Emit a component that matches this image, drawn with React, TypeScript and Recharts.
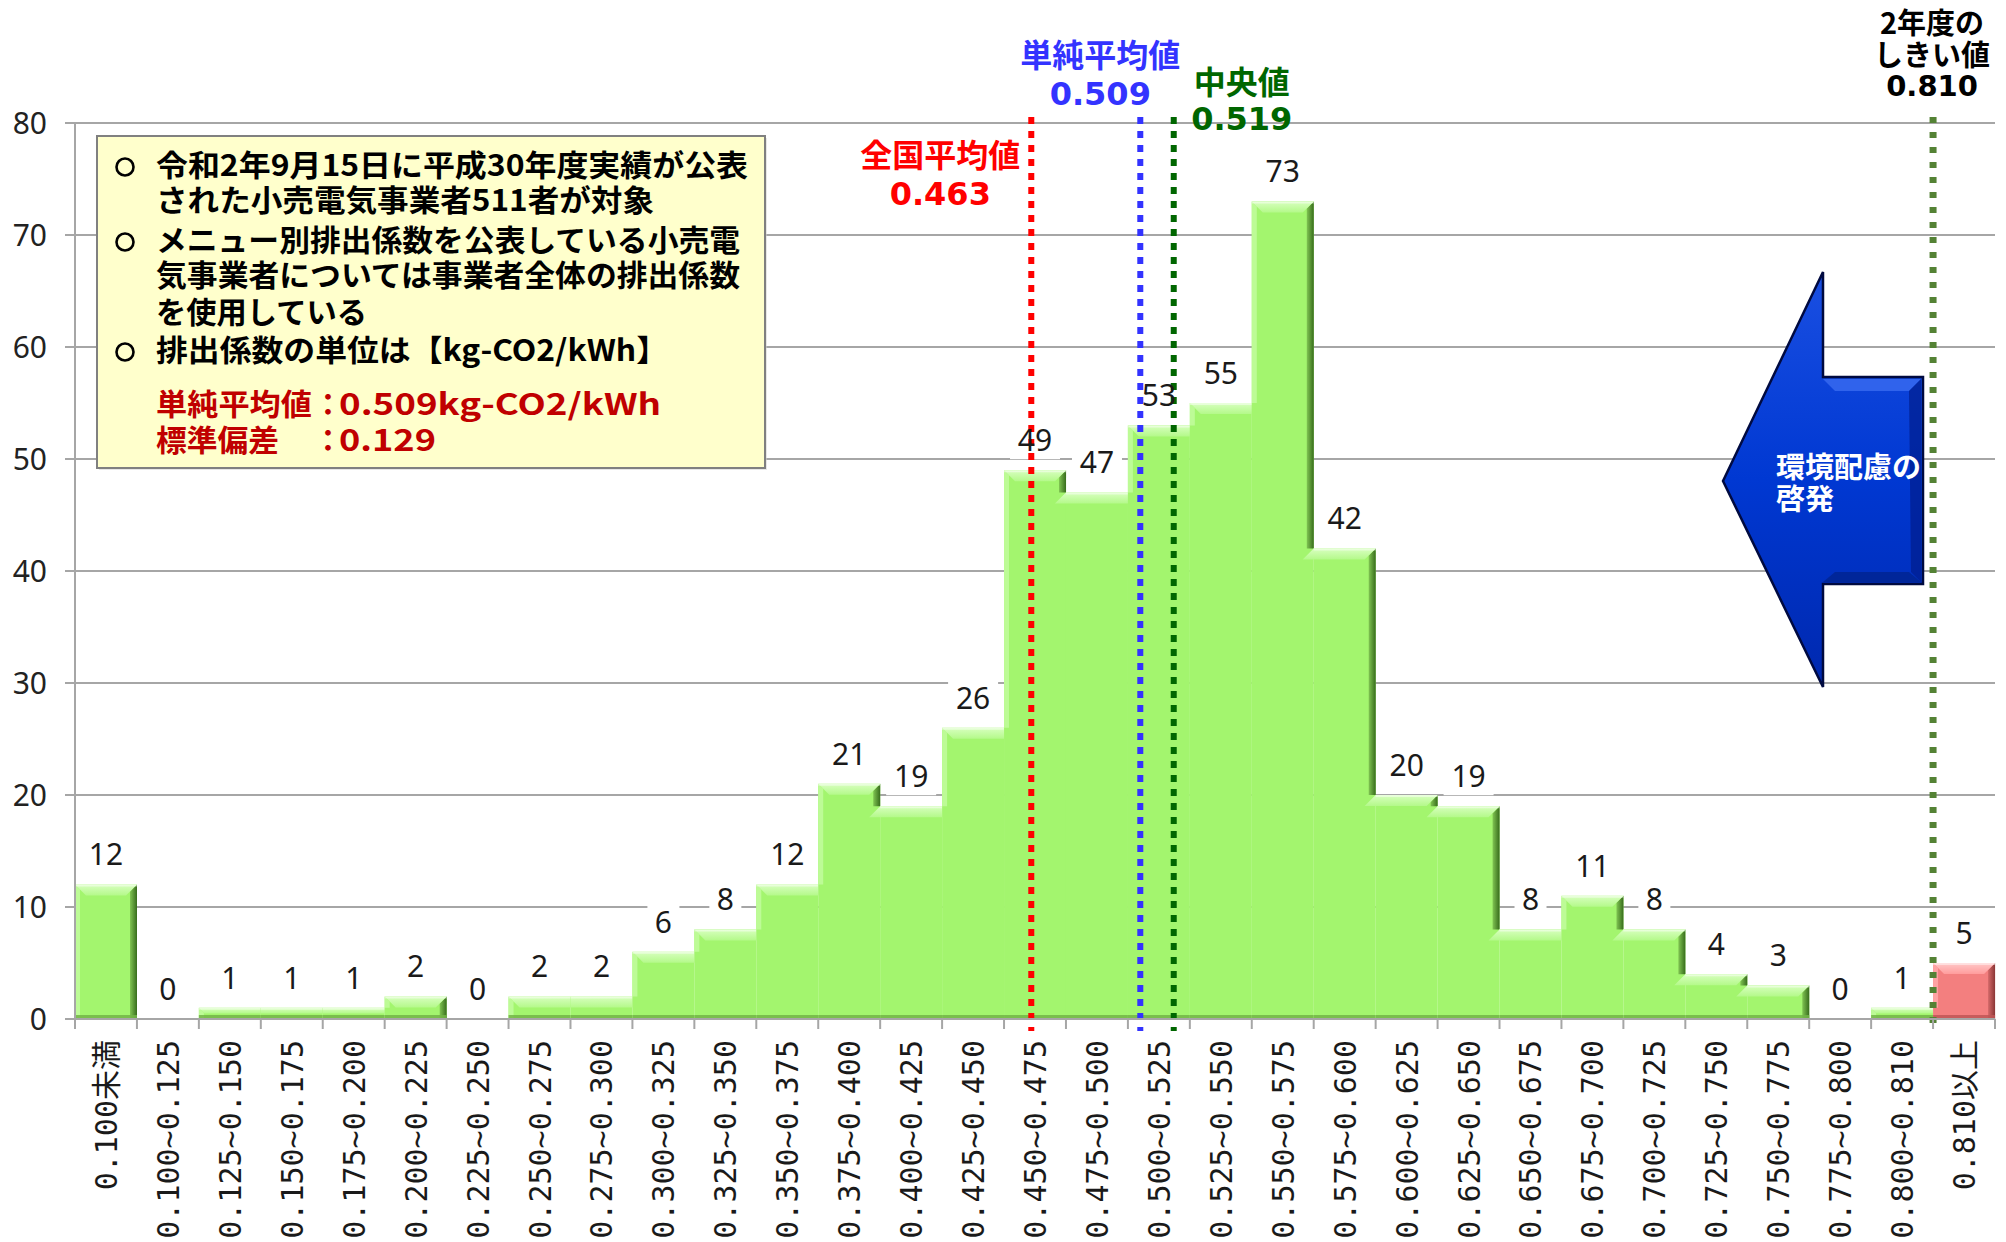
import React from "react"
import { BarChart, Bar, XAxis, YAxis, CartesianGrid, ReferenceLine, LabelList } from "recharts"

// emission-factor bins (kg-CO2/kWh) and number of retailers in each
const bins = [
  "0.100未満", "0.100~0.125", "0.125~0.150", "0.150~0.175", "0.175~0.200", "0.200~0.225",
  "0.225~0.250", "0.250~0.275", "0.275~0.300", "0.300~0.325", "0.325~0.350", "0.350~0.375",
  "0.375~0.400", "0.400~0.425", "0.425~0.450", "0.450~0.475", "0.475~0.500", "0.500~0.525",
  "0.525~0.550", "0.550~0.575", "0.575~0.600", "0.600~0.625", "0.625~0.650", "0.650~0.675",
  "0.675~0.700", "0.700~0.725", "0.725~0.750", "0.750~0.775", "0.775~0.800", "0.800~0.810",
  "0.810以上",
]
const counts = [
  12, 0, 1, 1, 1, 2, 0, 2, 2, 6, 8, 12, 21, 19, 26, 49, 47, 53, 55, 73, 42, 20, 19, 8, 11, 8, 4, 3,
  0, 1, 5,
]
const yTicks = [0, 10, 20, 30, 40, 50, 60, 70, 80]

// vertical markers: title, value, position on the bin axis (bin index units)
const markerTitles = [["全国平均値"], ["単純平均値"], ["中央値"], ["2年度の", "しきい値"]]
const markerValues = ["0.463", "0.509", "0.519", "0.810"]
const markerBinPos = [15.44, 17.2, 17.74, 30]

const noteLines = [
  "令和2年9月15日に平成30年度実績が公表",
  "された小売電気事業者511者が対象",
  "メニュー別排出係数を公表している小売電",
  "気事業者については事業者全体の排出係数",
  "を使用している",
  "排出係数の単位は【kg-CO2/kWh】",
]
const noteBullets = [0, 2, 5]
const statNames = ["単純平均値", "標準偏差"]
const statValues = ["0.509kg-CO2/kWh", "0.129"]
const arrowText = ["環境配慮の", "啓発"]
const highlightBin = "0.810以上"

const data = bins.map((bin, i) => ({ bin, count: counts[i] }))

// layout / style
const CHART_W = 2006
const CHART_H = 1242
const Y_AXIS_W = 75
const X_AXIS_H = 223
const MARGIN = { top: 123, right: 11, left: 0, bottom: 0 }
const PLOT_W = CHART_W - Y_AXIS_W - MARGIN.left - MARGIN.right
const BAND = PLOT_W / bins.length
const GRID = "#A6A6A6"
const CJK = "'Noto Sans CJK JP', 'Noto Sans', sans-serif"
const NUM = "'DejaVu Sans', 'Noto Sans CJK JP', sans-serif"
const LABEL_GAP = 30

const markerStyle = [
  { color: "#FF0000", text: "#FF0000", dash: "7 7", w: 6, dx: -91, titleY: [155], valueY: 193, size: 32 },
  { color: "#3333FF", text: "#3333FF", dash: "7 7", w: 6, dx: -40, titleY: [55], valueY: 93, size: 32 },
  { color: "#006600", text: "#006600", dash: "7 7", w: 6, dx: 68, titleY: [82], valueY: 118, size: 32 },
  { color: "#548235", text: "#000000", dash: "6 9", w: 7, dx: -1, titleY: [23, 55], valueY: 86, size: 29 },
]
const noteY = [165, 200, 240, 275, 312, 350]
const noteW = [592, 498, 584, 584, 211, 512]
const statY = [404, 440]
const statNameW = [156, 123]
const statValueW = [322, 97]

const palettes = {
  green: { base: "#A3F56E", top: "url(#gTopG)", left: "#BDFB96", right: "url(#gRightG)", bottom: "#72B446" },
  red: { base: "#F37F7F", top: "url(#gTopR)", left: "#FFA3A3", right: "url(#gRightR)", bottom: "#BE5656" },
}

function BevelBar(props: any) {
  const { x, y, width, height, index } = props
  const val = counts[index]
  if (!val || height <= 0) return null
  const k = height / val
  const yb = y + height
  const xr = x + width
  const prev = index > 0 ? counts[index - 1] : 0
  const next = index < counts.length - 1 ? counts[index + 1] : 0
  const prevTop = yb - prev * k
  const nextTop = yb - next * k
  const pal = bins[index] === highlightBin ? palettes.red : palettes.green
  const b = Math.min(11, height / 2)
  const s = Math.min(7, height / 2)
  const bl = prev > val ? x - b : prev === val ? x : x + b
  const br = next < val ? xr - b : xr
  const rightBottom = next > 0 ? nextTop : yb
  const leftBottom = prev > 0 ? prevTop : yb
  // white backing for the value label so that grid lines stop at it
  const lw = String(val).length * 18 + 14
  return (
    <g>
      <rect x={x + width / 2 - lw / 2} y={y - LABEL_GAP - 19} width={lw} height={38} fill="#ffffff" />
      <rect x={x} y={y} width={width} height={height} fill={pal.base} />
      {prev < val && (
        <polygon
          points={`${x},${y} ${x + 5},${y + 5} ${x + 5},${leftBottom} ${x},${leftBottom}`}
          fill={pal.left}
        />
      )}
      {next < val && (
        <polygon
          points={`${xr},${y} ${xr},${rightBottom} ${xr - s},${rightBottom} ${xr - s},${y + s}`}
          fill={pal.right}
        />
      )}
      <polygon points={`${x},${y} ${xr},${y} ${br},${y + b} ${bl},${y + b}`} fill={pal.top} />
      <line x1={x} x2={xr} y1={y + 1} y2={y + 1} stroke="#ffffff" strokeOpacity={0.45} strokeWidth={2} />
      <rect x={x} y={yb - 4} width={width} height={4} fill={pal.bottom} opacity={0.85} />
    </g>
  )
}

function ValueLabel(props: any) {
  const { x, y, width, value } = props
  return (
    <text x={x + width / 2} y={y - LABEL_GAP} dy="0.36em" textAnchor="middle" fontSize={30}
      fontFamily="'Noto Sans', sans-serif" fill="#1a1a1a">
      {String(value)}
    </text>
  )
}

function BinTick(props: any) {
  const { x, y, payload, index } = props
  const last = index === bins.length - 1
  return (
    <g>
      <line x1={x - BAND / 2} x2={x - BAND / 2} y1={y} y2={y + 10} stroke={GRID} strokeWidth={2} />
      {last && <line x1={x + BAND / 2} x2={x + BAND / 2} y1={y} y2={y + 10} stroke={GRID} strokeWidth={2} />}
      <text
        transform={`translate(${x + 11}, ${y + 21}) rotate(-90)`}
        textAnchor="end"
        fontSize={30}
        fontFamily="'DejaVu Sans Mono', 'Noto Sans CJK JP', monospace"
        fill="#1a1a1a"
      >
        {payload.value}
      </text>
    </g>
  )
}

// dotted marker line, shifted from the start of its bin by the fractional bin position
function MarkerShape(props: any) {
  const { x1, y1, y2, i } = props
  const st = markerStyle[i]
  const off = (markerBinPos[i] % 1) * BAND
  const top = Math.min(y1, y2)
  const bottom = Math.max(y1, y2)
  return (
    <line
      x1={x1 + off}
      x2={x1 + off}
      y1={top - 6}
      y2={bottom + 12}
      stroke={st.color}
      strokeWidth={st.w}
      strokeDasharray={st.dash}
    />
  )
}

function MarkerLabel(props: any) {
  const { viewBox, i } = props
  const st = markerStyle[i]
  const cx = viewBox.x + (markerBinPos[i] % 1) * BAND + st.dx
  return (
    <g>
      {markerTitles[i].map((t, j) => (
        <text key={t} x={cx} y={st.titleY[j]} dy="0.38em" textAnchor="middle" fontSize={st.size}
          fontWeight={700} fontFamily={CJK} fill={st.text}>
          {t}
        </text>
      ))}
      <text x={cx} y={st.valueY} dy="0.36em" textAnchor="middle" fontSize={st.size} fontWeight={700}
        fontFamily={NUM} fill={st.text}>
        {markerValues[i]}
      </text>
    </g>
  )
}

function Overlay() {
  return (
    <svg width={CHART_W} height={CHART_H} style={{ position: "absolute", left: 0, top: 0, pointerEvents: "none" }}>
      <defs>
        <linearGradient id="gTopG" x1="0" y1="0" x2="0" y2="1">
          <stop offset="0" stopColor="#D8FFC0" />
          <stop offset="1" stopColor="#B4F98A" />
        </linearGradient>
        <linearGradient id="gRightG" x1="0" y1="0" x2="1" y2="0">
          <stop offset="0" stopColor="#80C452" />
          <stop offset="1" stopColor="#376C1C" />
        </linearGradient>
        <linearGradient id="gTopR" x1="0" y1="0" x2="0" y2="1">
          <stop offset="0" stopColor="#FFC8C8" />
          <stop offset="1" stopColor="#FF9C9C" />
        </linearGradient>
        <linearGradient id="gRightR" x1="0" y1="0" x2="1" y2="0">
          <stop offset="0" stopColor="#D56A6A" />
          <stop offset="1" stopColor="#8A3535" />
        </linearGradient>
        <linearGradient id="gArrow" x1="0" y1="0" x2="0" y2="1">
          <stop offset="0" stopColor="#1A4FE2" />
          <stop offset="0.5" stopColor="#0038D2" />
          <stop offset="1" stopColor="#0028AE" />
        </linearGradient>
      </defs>

      {/* note box */}
      <rect x={99} y={138} width={668} height={332} fill="#D0D0D0" opacity={0.5} />
      <rect x={97} y={136} width={668} height={332} fill="#FFFFCC" stroke="#808080" strokeWidth={2} />
      {noteBullets.map((li) => (
        <circle key={li} cx={125} cy={noteY[li] + 2} r={8.5} fill="none" stroke="#000" strokeWidth={2.6} />
      ))}
      {noteLines.map((t, i) => (
        <text key={i} x={156} y={noteY[i]} dy="0.38em" fontSize={30} fontWeight={700} fontFamily={CJK}
          fill="#000" textLength={noteW[i]} lengthAdjust="spacingAndGlyphs">
          {t}
        </text>
      ))}
      {statNames.map((t, i) => (
        <g key={t}>
          <text x={156} y={statY[i]} dy="0.38em" fontSize={30} fontWeight={700} fontFamily={CJK} fill="#C00000"
            textLength={statNameW[i]} lengthAdjust="spacingAndGlyphs">{t}</text>
          <text x={313} y={statY[i]} dy="0.38em" fontSize={30} fontWeight={700} fontFamily={CJK} fill="#C00000">：</text>
          <text x={339} y={statY[i]} dy="0.38em" fontSize={30} fontWeight={700} fontFamily={CJK} fill="#C00000"
            textLength={statValueW[i]} lengthAdjust="spacingAndGlyphs">{statValues[i]}</text>
        </g>
      ))}

      {/* arrow */}
      <polygon
        points="1723,481 1823,272 1823,377 1923,377 1923,584 1823,584 1823,687"
        fill="url(#gArrow)"
        stroke="#000A40"
        strokeWidth={2.5}
        strokeLinejoin="miter"
      />
      <polygon points="1823,379 1921,379 1909,391 1835,391" fill="#3A6CF0" opacity={0.8} />
      <polygon points="1921,379 1921,582 1911,572 1909,391" fill="#001C8C" opacity={0.7} />
      <polygon points="1823,582 1921,582 1909,572 1835,572" fill="#00207E" opacity={0.6} />
      {arrowText.map((t, i) => (
        <text key={t} x={1776} y={467 + i * 32} dy="0.38em" fontSize={29} fontWeight={700} fontFamily={CJK} fill="#fff">
          {t}
        </text>
      ))}
    </svg>
  )
}

export default function App() {
  return (
    <div style={{ position: "absolute", left: 0, top: 0, width: CHART_W, height: CHART_H, background: "#fff" }}>
      <BarChart width={CHART_W} height={CHART_H} data={data} margin={MARGIN} barCategoryGap={0} barGap={0}>
        <CartesianGrid vertical={false} stroke={GRID} strokeWidth={2} />
        <XAxis
          dataKey="bin"
          interval={0}
          height={X_AXIS_H}
          tickLine={false}
          tickSize={0}
          tickMargin={0}
          axisLine={{ stroke: GRID, strokeWidth: 2 }}
          tick={<BinTick />}
        />
        <YAxis
          domain={[0, 80]}
          ticks={yTicks}
          interval={0}
          width={Y_AXIS_W}
          tickSize={10}
          tickMargin={18}
          tickLine={{ stroke: GRID, strokeWidth: 2 }}
          axisLine={{ stroke: GRID, strokeWidth: 2 }}
          tick={{ fontSize: 30, fill: "#222", fontFamily: "'Noto Sans', sans-serif" }}
        />
        <Bar dataKey="count" isAnimationActive={false} shape={<BevelBar />}>
          <LabelList dataKey="count" content={<ValueLabel />} />
        </Bar>
        {markerBinPos.map((p, i) => (
          <ReferenceLine
            key={i}
            x={bins[Math.floor(p)]}
            position="start"
            ifOverflow="visible"
            shape={(sp: any) => <MarkerShape {...sp} i={i} />}
            label={<MarkerLabel i={i} />}
          />
        ))}
      </BarChart>
      <Overlay />
    </div>
  )
}
